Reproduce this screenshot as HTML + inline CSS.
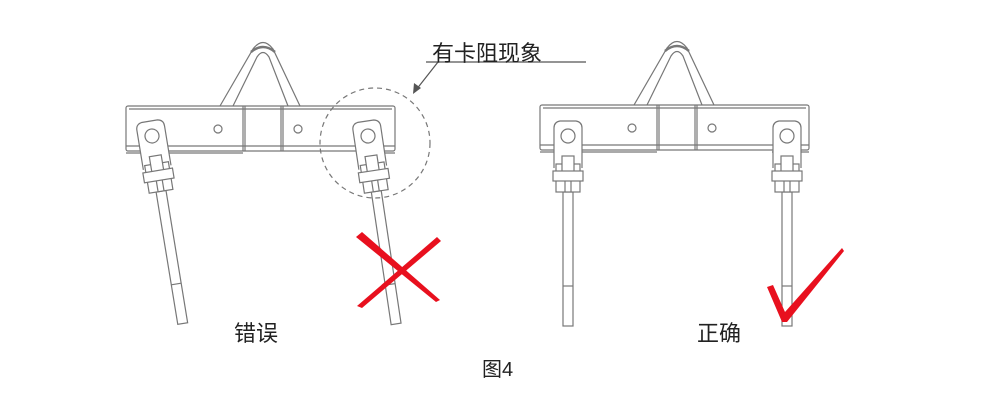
<!DOCTYPE html>
<html><head><meta charset="utf-8"><style>
html,body{margin:0;padding:0;background:#fff;}
body{width:1000px;height:408px;overflow:hidden;position:relative;font-family:"Liberation Sans","Noto Sans CJK SC",sans-serif;}
.t{position:absolute;color:#222;white-space:nowrap;}
</style></head><body>
<svg width="1000" height="408" style="position:absolute;left:0;top:0">
<defs>
<g id="beam" fill="none" stroke="#777" stroke-width="1.2">
  <path d="M-43,0 L-10,-57 Q0,-70 10,-57 L37,0"/>
  <path d="M-30,0 L-6,-49 Q0,-58 6,-49 L25,0"/>
  <path d="M-12,-54 Q0,-64 12,-54" stroke-width="2.5"/>
  <rect x="-137" y="0" width="269" height="45" rx="2" fill="#fff"/>
  <line x1="-134" y1="3" x2="129" y2="3"/>
  <line x1="-137" y1="40" x2="132" y2="40"/>
  <line x1="-20" y1="0" x2="-20" y2="45"/><line x1="-18" y1="0" x2="-18" y2="45"/>
  <line x1="18" y1="0" x2="18" y2="45"/><line x1="20" y1="0" x2="20" y2="45"/>
  <circle cx="-45" cy="23" r="4"/><circle cx="35" cy="23" r="4"/>
  <line x1="-137" y1="47" x2="-20" y2="47"/><line x1="95" y1="47" x2="132" y2="47"/>
</g>
<g id="rod" fill="#fff" stroke="#777" stroke-width="1.2">
  <path d="M-14,32 L-14,-8 Q-14,-14 -8,-15 L8,-15 Q14,-14 14,-8 L14,32"/>
  <circle cx="0" cy="0" r="7"/>
  <rect x="-5" y="56" width="10" height="134"/>
  <line x1="-5" y1="150" x2="5" y2="150"/>
  <rect x="-12" y="44" width="24" height="12"/>
  <rect x="-12" y="28" width="24" height="8"/>
  <rect x="-6" y="20" width="12" height="16"/>
  <rect x="-15" y="35" width="30" height="10"/>
  <line x1="-3" y1="45" x2="-3" y2="56"/><line x1="3" y1="45" x2="3" y2="56"/>
</g>
</defs>
<use href="#beam" x="263" y="106"/>
<use href="#rod" transform="translate(152,136) rotate(-9.3)"/>
<use href="#rod" transform="translate(368,136) rotate(-8.5)"/>
<circle cx="375" cy="143" r="55" fill="none" stroke="#777" stroke-width="1.2" stroke-dasharray="5,4"/>
<line x1="438" y1="62" x2="416" y2="90" stroke="#555" stroke-width="1.2"/>
<polygon points="413,94 414,83 421,88" fill="#555"/>
<line x1="426" y1="62" x2="586" y2="62" stroke="#555" stroke-width="1.2"/>
<polygon points="356,237 362,232 440,300 436,302" fill="#e8101e"/>
<polygon points="437,237 441,241 362,308 357,306" fill="#e8101e"/>
<use href="#beam" x="677" y="105"/>
<use href="#rod" transform="translate(568,136)"/>
<use href="#rod" transform="translate(787,136)"/>
<path d="M767,287 L773,285 L785,312 L842,248 L844,251 L787,322 L782,322 Z" fill="#e8101e"/>
</svg>
<div class="t" style="left:432px;top:36px;font-size:22px;">有卡阻现象</div>
<div class="t" style="left:234px;top:316px;font-size:22px;">错误</div>
<div class="t" style="left:697px;top:316px;font-size:22px;">正确</div>
<div class="t" style="left:482px;top:353px;font-size:20px;">图4</div>
</body></html>
